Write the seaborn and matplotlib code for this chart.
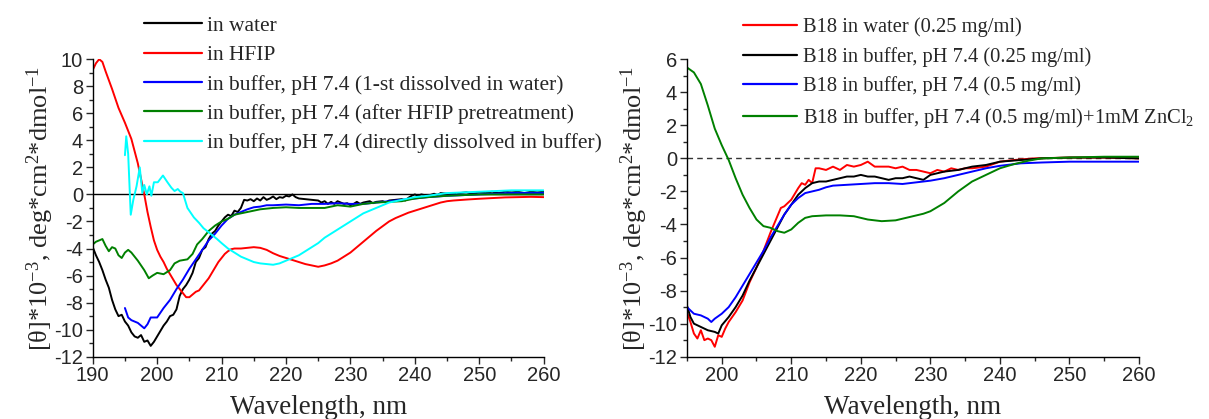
import numpy as np
import pandas as pd
import matplotlib
matplotlib.use("Agg")
import matplotlib.pyplot as plt
from matplotlib.ticker import MultipleLocator
import seaborn as sns

# ---------------- Left panel data ----------------
water_wl = [190, 190.5, 191, 191.5, 192, 192.5, 193, 193.5, 194, 194.5, 195, 195.5, 196, 196.5, 197, 197.5,
            198, 198.5, 199, 199.5, 200, 200.5, 201, 201.5, 202, 202.5, 203, 203.5, 204, 204.5, 205, 205.5,
            206, 206.5, 207, 207.5, 208, 208.5, 209, 209.5, 210, 210.5, 211, 211.5, 212, 212.5, 213, 213.5,
            214, 214.5, 215, 215.5, 216, 216.5, 217, 217.5, 218, 218.5, 219, 219.5, 220, 220.5, 221, 221.5,
            222, 223, 224, 225, 225.5, 226, 226.5, 227, 227.5, 228, 228.5, 229, 229.5, 230, 230.5, 231, 231.5,
            232, 233, 233.5, 234, 235, 235.5, 236, 237, 238, 238.5, 239, 239.5, 240, 240.5, 241, 241.5, 242,
            243, 243.5, 244, 245, 246, 246.5, 247, 248, 249, 250, 251, 252, 253, 254, 255, 256, 257, 258, 259, 260]
water_val = [-3.9, -4.5, -5.0, -5.6, -6.3, -6.9, -7.8, -8.5, -9.0, -8.9, -9.4, -9.7, -10.2, -10.5, -10.6, -10.4,
             -10.9, -10.8, -11.2, -10.9, -10.5, -10.1, -9.7, -9.4, -9.0, -8.9, -8.5, -7.5, -7.0, -6.7, -6.3, -5.8,
             -5.0, -4.7, -4.1, -3.9, -3.3, -2.9, -2.7, -2.3, -2.0, -1.7, -1.5, -1.6, -1.2, -1.3, -1.0, -0.4,
             -0.45, -0.35, -0.5, -0.3, -0.45, -0.2, -0.4, -0.3, -0.15, -0.35, -0.2, -0.25, -0.1, -0.15, 0.0, -0.2,
             -0.3, -0.35, -0.4, -0.45, -0.6, -0.5, -0.7, -0.55, -0.7, -0.5, -0.6, -0.7, -0.65, -0.8, -0.7, -0.55, -0.7,
             -0.6, -0.5, -0.65, -0.55, -0.5, -0.6, -0.45, -0.4, -0.35, -0.45, -0.25, -0.1, 0.0, -0.1, 0.0, -0.05, -0.1,
             0.05, -0.05, 0.1, 0.05, 0.1, 0.0, 0.1, 0.15, 0.05, 0.15, 0.1, 0.2, 0.1, 0.2, 0.15, 0.2, 0.1, 0.2, 0.15, 0.2]

hfip_wl = [190, 190.5, 191, 191.5, 192, 193, 194, 195, 196, 197, 198, 198.5, 199, 199.5, 200, 200.5, 201, 201.5,
           202, 202.5, 203, 203.5, 204, 204.5, 205, 205.5, 206, 206.5, 207, 207.5, 208, 208.5, 209, 209.5, 210,
           210.5, 211, 211.5, 212, 213, 214, 215, 216, 217, 218, 219, 220, 221, 222, 223, 224, 225, 226, 227, 228,
           229, 230, 231, 232, 233, 234, 235, 236, 237, 238, 239, 240, 241, 242, 243, 244, 245, 246, 248, 250, 252,
           254, 256, 258, 260]
hfip_val = [9.2, 9.7, 10.0, 9.8, 9.1, 7.8, 6.4, 5.3, 4.1, 2.3, 0.0, -1.3, -2.4, -3.4, -4.1, -4.6, -5.0, -5.5,
            -5.9, -6.3, -6.7, -7.0, -7.3, -7.6, -7.6, -7.4, -7.2, -7.1, -6.8, -6.5, -6.2, -5.8, -5.4, -5.0, -4.7,
            -4.4, -4.2, -4.05, -4.0, -4.0, -3.95, -3.9, -3.95, -4.1, -4.35, -4.55, -4.7, -4.85, -5.0, -5.15, -5.25,
            -5.35, -5.25, -5.1, -4.9, -4.6, -4.3, -3.9, -3.5, -3.1, -2.7, -2.35, -2.0, -1.75, -1.55, -1.35, -1.2,
            -1.05, -0.9, -0.75, -0.6, -0.5, -0.45, -0.38, -0.32, -0.27, -0.22, -0.2, -0.18, -0.2]

buf1_wl = [195, 195.5, 196, 197, 198, 198.5, 199, 200, 201, 202, 203, 204, 205, 206, 207, 208, 209, 210, 211,
           212, 213, 214, 215, 216, 217, 218, 220, 222, 224, 226, 228, 230, 232, 234, 236, 238, 240, 242, 245,
           250, 255, 260]
buf1_val = [-8.4, -9.1, -9.3, -9.5, -9.9, -9.6, -9.1, -9.1, -8.4, -7.8, -7.0, -6.3, -5.5, -4.8, -4.1, -3.4, -2.9,
            -2.3, -1.8, -1.5, -1.3, -1.1, -0.95, -0.9, -0.8, -0.8, -0.75, -0.8, -0.7, -0.7, -0.65, -0.7, -0.7, -0.6,
            -0.5, -0.4, -0.3, -0.2, -0.1, 0.0, 0.1, 0.1]

hfpre_wl = [190, 190.5, 191, 191.5, 192, 192.5, 193, 193.5, 194, 194.5, 195, 195.5, 196, 197, 198, 198.7, 199.3,
            200, 201, 202, 202.7, 203.5, 204.7, 205.5, 206.2, 207, 208, 209, 210, 211, 212, 213, 214, 215, 216,
            218, 220, 222, 224, 226, 228, 230, 232, 234, 236, 238, 240, 242, 245, 250, 255, 260]
hfpre_val = [-3.7, -3.5, -3.4, -3.3, -3.8, -4.2, -3.9, -4.0, -4.5, -4.7, -4.3, -4.1, -4.3, -4.9, -5.6, -6.2, -6.0,
             -5.8, -5.9, -5.6, -5.1, -4.9, -4.8, -4.4, -3.7, -3.3, -2.7, -2.3, -2.0, -1.8, -1.5, -1.4, -1.3, -1.2,
             -1.1, -1.0, -0.95, -1.0, -1.0, -1.0, -0.8, -0.9, -0.7, -0.6, -0.55, -0.5, -0.3, -0.2, -0.1, 0.0, 0.0, 0.0]

direct_wl = [195, 195.2, 195.5, 195.9, 196.3, 196.8, 197.3, 197.7, 198, 198.4, 198.8, 199.1, 199.5, 200.1,
             200.9, 201.6, 202.2, 202.7, 203.2, 203.6, 204, 204.7, 205.7, 206.5, 207.2, 208, 209.3, 210, 211, 212,
             213, 214, 215, 216, 217, 218, 219, 220, 221, 222, 223, 224, 225, 226, 227, 228, 229, 230, 231, 232,
             233, 234, 235, 236, 237, 238, 240, 242, 245, 250, 255, 260]
direct_val = [2.9, 4.3, 3.0, -1.5, -0.4, 0.6, 2.0, 0.1, 0.7, 0.0, 0.6, -0.1, 0.9, 0.9, 1.4, 0.9, 0.5, 0.25, 0.4,
              0.2, 0.1, -1.0, -1.7, -2.1, -2.5, -2.8, -3.3, -3.6, -4.0, -4.3, -4.6, -4.8, -5.0, -5.1, -5.15, -5.2,
              -5.1, -4.9, -4.7, -4.5, -4.2, -3.9, -3.6, -3.2, -2.9, -2.6, -2.3, -2.0, -1.7, -1.4, -1.2, -1.0, -0.8,
              -0.6, -0.5, -0.4, -0.2, -0.1, 0.1, 0.2, 0.3, 0.3]

left_labels = ["in water", "in HFIP", "in buffer, pH 7.4 (1-st dissolved in water)",
               "in buffer, pH 7.4 (after HFIP pretreatment)",
               "in buffer, pH 7.4 (directly dissolved in buffer)"]
left_colors = ["#000000", "#ff0000", "#0000ff", "#008000", "#00ffff"]

# ---------------- Right panel data ----------------
b_water_wl = [195, 195.5, 196, 196.5, 197, 197.5, 198, 198.5, 199, 199.5, 200, 200.5, 201, 202, 203, 204, 205,
              206, 207, 208, 208.5, 209, 210, 211, 211.5, 212, 212.5, 213, 213.5, 214, 215, 216, 217, 218, 219,
              220, 221, 222, 223, 224, 225, 226, 227, 228, 229, 230, 231, 232, 233, 234, 235, 236, 238, 240, 242,
              245, 250, 255, 260]
b_water_val = [-9.3, -9.9, -10.6, -10.9, -10.4, -11.0, -10.9, -11.0, -11.4, -10.7, -10.8, -10.3, -9.9, -9.3,
               -8.6, -7.5, -6.6, -5.6, -4.5, -3.5, -3.0, -2.9, -2.5, -1.8, -1.5, -1.6, -1.3, -1.5, -0.6, -0.6,
               -0.7, -0.5, -0.7, -0.4, -0.5, -0.4, -0.2, -0.5, -0.5, -0.5, -0.6, -0.5, -0.7, -0.7, -0.8, -0.9,
               -0.7, -0.8, -0.6, -0.7, -0.6, -0.6, -0.5, -0.2, -0.1, 0.0, 0.05, 0.05, 0.0]

b_buf25_wl = [195, 195.5, 196, 197, 198, 199, 199.5, 200, 201, 202, 203, 204, 205, 206, 207, 208, 209, 210, 211,
              212, 213, 214, 215, 216, 217, 218, 219, 220, 221, 222, 223, 224, 225, 226, 227, 228, 229, 230, 231,
              232, 234, 236, 238, 240, 243, 246, 250, 255, 260]
b_buf25_val = [-8.9, -9.6, -10.0, -10.2, -10.4, -10.5, -10.6, -10.1, -9.6, -9.0, -8.3, -7.4, -6.6, -5.8, -5.0,
               -4.2, -3.4, -2.8, -2.2, -1.8, -1.5, -1.4, -1.4, -1.3, -1.2, -1.1, -1.1, -1.0, -1.1, -1.1, -1.2,
               -1.3, -1.2, -1.2, -1.1, -1.2, -1.3, -1.0, -0.9, -0.8, -0.7, -0.5, -0.4, -0.2, -0.1, 0.0, 0.05, 0.05, 0.0]

b_buf5_wl = [195, 196, 197, 198, 198.5, 199, 200, 201, 202, 203, 204, 205, 206, 207, 208, 209, 210, 211, 212, 213,
             214, 215, 216, 218, 220, 222, 224, 226, 228, 230, 232, 234, 236, 238, 240, 243, 246, 250, 255, 260]
b_buf5_val = [-9.0, -9.4, -9.5, -9.7, -9.9, -9.7, -9.4, -9.0, -8.4, -7.7, -7.0, -6.3, -5.6, -4.8, -4.1, -3.4,
              -2.8, -2.4, -2.1, -2.0, -1.9, -1.75, -1.65, -1.6, -1.55, -1.5, -1.5, -1.55, -1.45, -1.35, -1.2, -1.0,
              -0.8, -0.6, -0.45, -0.3, -0.25, -0.2, -0.2, -0.2]

b_zn_wl = [195, 196, 197, 198, 199, 200, 201, 202, 203, 204, 205, 206, 207, 208, 209, 210, 211, 212, 213, 215,
           217, 219, 221, 223, 225, 227, 229, 230, 232, 234, 236, 238, 240, 242, 244, 246, 250, 255, 260]
b_zn_val = [5.5, 5.2, 4.5, 3.2, 1.8, 0.8, -0.1, -1.2, -2.2, -3.0, -3.7, -4.1, -4.2, -4.4, -4.5, -4.3, -3.9, -3.6,
            -3.5, -3.45, -3.45, -3.5, -3.7, -3.8, -3.75, -3.55, -3.35, -3.2, -2.7, -2.0, -1.4, -1.0, -0.6, -0.35,
            -0.15, 0.0, 0.05, 0.1, 0.1]

right_labels = ["B18 in water (0.25 mg/ml)", "B18 in buffer, pH 7.4 (0.25 mg/ml)",
                "B18 in buffer, pH 7.4 (0.5 mg/ml)", r"B18 in buffer, pH 7.4 (0.5 mg/ml)+1mM ZnCl$_2$"]
right_colors = ["#ff0000", "#000000", "#0000ff", "#008000"]


def tidy(pairs, labels):
    frames = []
    for (wl, val), lab in zip(pairs, labels):
        frames.append(pd.DataFrame({"wl": wl, "val": val, "series": lab}))
    return pd.concat(frames, ignore_index=True)


left_df = tidy([(water_wl, water_val), (hfip_wl, hfip_val), (buf1_wl, buf1_val),
                (hfpre_wl, hfpre_val), (direct_wl, direct_val)], left_labels)
right_df = tidy([(b_water_wl, b_water_val), (b_buf25_wl, b_buf25_val), (b_buf5_wl, b_buf5_val),
                 (b_zn_wl, b_zn_val)], right_labels)

sns.set_style("ticks")
plt.rcParams["font.family"] = ["Liberation Sans", "DejaVu Sans"]
plt.rcParams["mathtext.fontset"] = "custom"
plt.rcParams["mathtext.rm"] = "Liberation Serif"
plt.rcParams["mathtext.it"] = "Liberation Serif:italic"
plt.rcParams["axes.unicode_minus"] = False

serif = ["Liberation Serif", "DejaVu Serif"]

fig = plt.figure(figsize=(12.09, 4.19), dpi=100)
axL = fig.add_axes([0.0767, 0.1487, 0.373, 0.710])
axR = fig.add_axes([0.5682, 0.1487, 0.3739, 0.710])

ylabel = r"[θ]*10$^{-3}$, deg*cm$^{2}$*dmol$^{-1}$"

for ax, df, labels, colors, xlim, ylim, zero_style in [
    (axL, left_df, left_labels, left_colors, (190, 260), (-12, 10), dict(color="black", lw=1.0, ls="-")),
    (axR, right_df, right_labels, right_colors, (195, 260), (-12, 6), dict(color="#333333", lw=1.0, ls=(0, (4, 3)))),
]:
    ax.axhline(0, zorder=1, **zero_style)
    sns.lineplot(data=df, x="wl", y="val", hue="series", hue_order=labels,
                 palette=dict(zip(labels, colors)), estimator=None, sort=False,
                 linewidth=1.4, ax=ax, legend=True, zorder=2)
    ax.set_xlim(*xlim)
    ax.set_ylim(*ylim)
    ax.xaxis.set_major_locator(MultipleLocator(10))
    ax.xaxis.set_minor_locator(MultipleLocator(5))
    ax.yaxis.set_major_locator(MultipleLocator(2))
    ax.yaxis.set_minor_locator(MultipleLocator(1))
    ax.tick_params(which="major", direction="out", length=5, width=1, labelsize=14.5, pad=2)
    ax.tick_params(which="minor", direction="out", length=3, width=1)
    for s in ["top", "right"]:
        ax.spines[s].set_visible(False)
    for s in ["left", "bottom"]:
        ax.spines[s].set_linewidth(1.0)
        ax.spines[s].set_color("black")
    ax.set_xlabel("Wavelength, nm", fontsize=19.5, family=serif, labelpad=7)
    ax.set_ylabel(ylabel, fontsize=19, family=serif, labelpad=-1)

leg_kw = dict(loc="upper left", bbox_transform=fig.transFigure, frameon=False,
              handletextpad=0.25, borderpad=0, borderaxespad=0)
legL = axL.legend(bbox_to_anchor=(0.119, 0.962), prop={"family": serif, "size": 15.5},
                  handlelength=2.7, labelspacing=0.43, **leg_kw)
legR = axR.legend(bbox_to_anchor=(0.6145, 0.958), prop={"family": serif, "size": 14.8},
                  handlelength=2.65, labelspacing=0.47, **leg_kw)
for leg in (legL, legR):
    for h in leg.get_lines():
        h.set_linewidth(1.6)

fig.savefig("out.png", dpi=100)
